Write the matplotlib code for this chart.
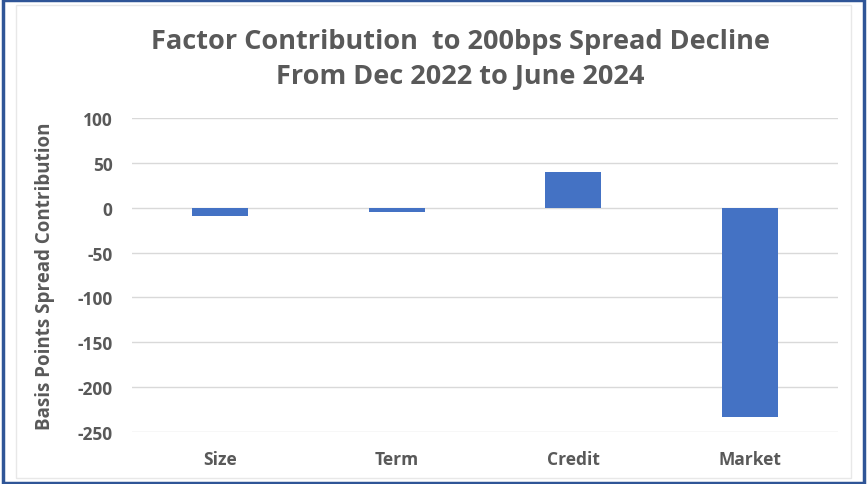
import matplotlib
matplotlib.use("Agg")
import matplotlib.pyplot as plt
from matplotlib.patches import Rectangle

categories = ["Size", "Term", "Credit", "Market"]
values = [-9, -5, 40, -233]
yticks = [100, 50, 0, -50, -100, -150, -200, -250]

plt.rcParams['font.family'] = ['Open Sans', 'DejaVu Sans']

fig = plt.figure(figsize=(8.67, 4.85), dpi=100)
ax = fig.add_axes([132/867, 1 - 433/485, (838-132)/867, (433-119)/485])

x = list(range(len(categories)))
ax.bar(x, values, width=0.32, color="#4472C4", zorder=3)
ax.set_xlim(-0.5, len(categories) - 0.5)
ax.set_ylim(-250, 100)
ax.set_yticks(yticks)
ax.set_yticklabels([str(t) for t in yticks], fontsize=12.5, fontweight='bold', color="#595959")
ax.set_xticks(x)
ax.set_xticklabels(categories, fontsize=12.5, fontweight='bold', color="#595959")
ax.tick_params(axis='y', length=0, pad=14)
ax.tick_params(axis='x', length=0, pad=13)
ax.grid(axis='y', color="#D9D9D9", linewidth=1, zorder=0)
for s in ax.spines.values():
    s.set_visible(False)
ax.set_ylabel("Basis Points Spread Contribution", fontsize=13.5, fontweight='bold', color="#595959", labelpad=16)

fig.text(460/867, 1 - 42/485, "Factor Contribution  to 200bps Spread Decline", ha='center', va='center',
         fontsize=19.5, fontweight='bold', color="#595959")
fig.text(460/867, 1 - 77/485, "From Dec 2022 to June 2024", ha='center', va='center',
         fontsize=19.5, fontweight='bold', color="#595959")

fig.patches.append(Rectangle((0.003, 0.003), 0.994, 0.994, transform=fig.transFigure,
                             fill=False, edgecolor="#2F5597", linewidth=2.5))
fig.patches.append(Rectangle((16/867, 6/485), 1 - 32/867, 1 - 12/485, transform=fig.transFigure,
                             fill=False, edgecolor="#E8E8E8", linewidth=1))

fig.savefig("out.png", dpi=100)
